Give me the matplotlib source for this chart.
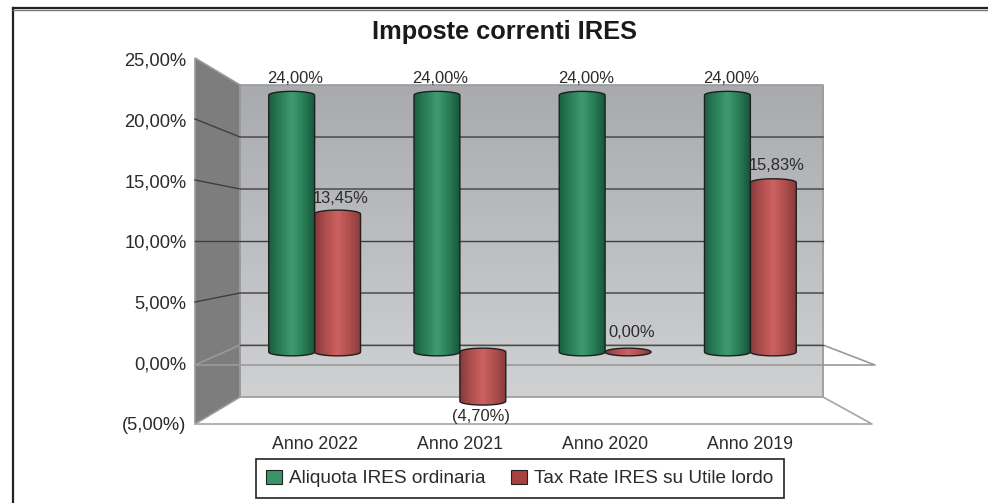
import numpy as np
import matplotlib
matplotlib.use("Agg")
import matplotlib.pyplot as plt
from matplotlib.colors import LinearSegmentedColormap
from matplotlib.patches import PathPatch, Patch, Polygon
from matplotlib.path import Path

plt.rcParams['font.family'] = ['Liberation Sans', 'DejaVu Sans']

years = ["Anno 2022", "Anno 2021", "Anno 2020", "Anno 2019"]
aliquota = [24.0, 24.0, 24.0, 24.0]
# heights as drawn in the picture, the 2022 bar sits a bit under its label
tax_rate = [12.9, -4.6, 0.0, 15.83]
aliquota_labels = ["24,00%", "24,00%", "24,00%", "24,00%"]
tax_labels = ["13,45%", "(4,70%)", "0,00%", "15,83%"]
y_ticks = [-5, 0, 5, 10, 15, 20, 25]
y_tick_labels = ["(5,00%)", "0,00%", "5,00%", "10,00%", "15,00%", "20,00%", "25,00%"]
series_names = ["Aliquota IRES ordinaria", "Tax Rate IRES su Utile lordo"]

W, H = 988, 503
TEXT = "#2b2b2b"


def px_axes(fig, left, top, right, bottom, **kw):
    # axes placed by pixel box, top/bottom counted from the top of the image
    return fig.add_axes([left / W, (H - bottom) / H, (right - left) / W, (bottom - top) / H], **kw)


fig = plt.figure(figsize=(W / 100, H / 100), dpi=100, facecolor="white")

# background: walls, floor and frame, in image pixels
bg = px_axes(fig, 0, 0, W, H)
bg.set_xlim(0, W)
bg.set_ylim(H, 0)
bg.axis("off")

back_cmap = LinearSegmentedColormap.from_list("back", ["#a9aaae", "#d0d1d3"])
im = bg.imshow(np.linspace(0, 1, 100)[:, None], extent=(240, 823, 397, 85), cmap=back_cmap, aspect="auto", zorder=1)
side = Polygon([(195, 58), (240, 85), (240, 397), (195, 424)], closed=True, facecolor="#7d7d7d",
               edgecolor="#9a9a9a", lw=1.2, zorder=2)
bg.add_patch(side)
bg.plot([240, 823, 823, 240, 240], [85, 85, 397, 397, 85], color="#9a9a9a", lw=1.2, zorder=3)

# gridlines on back wall and side wall
for v in y_ticks[2:-1]:
    yb = 397 - (v + 5) * 312 / 30
    yf = 424 - (v + 5) * 366 / 30
    bg.plot([195, 240, 823], [yf, yb, yb], color="#3f3f3f", lw=1.0, zorder=3)

# zero plane and floor edges
bg.plot([195, 240, 823, 875, 195], [365, 345, 345, 365, 365], color="#9a9a9a", lw=1.2, zorder=3)
bg.plot([240, 823], [345, 345], color="#4a4a4a", lw=1.0, zorder=3)
bg.plot([823, 872, 195], [397, 424, 424], color="#a5a5a5", lw=1.2, zorder=3)

# frame, open on the right and at the bottom
bg.plot([13, 13], [H, 8], color="#222222", lw=1.6, zorder=4)
bg.plot([13, W], [9.6, 9.6], color="#777777", lw=1.0, zorder=4)
bg.plot([13, W], [8, 8], color="#222222", lw=1.6, zorder=4)

# front scale, only carries the tick labels
scale = px_axes(fig, 195, 59, 875, 424)
scale.patch.set_alpha(0)
scale.set_ylim(-5, 25)
scale.set_xticks([])
scale.set_yticks(y_ticks, y_tick_labels, fontsize=13.2, color=TEXT)
scale.tick_params(axis="y", length=0, pad=6)
for s in scale.spines.values():
    s.set_visible(False)

# bar plane
ax = px_axes(fig, 242, 84.5, 823, 405.5)
ax.patch.set_alpha(0)
for s in ax.spines.values():
    s.set_visible(False)
ax.set_yticks([])

green_cmap = LinearSegmentedColormap.from_list("g", ["#1b5f42", "#2a7f58", "#409a70", "#2a7f58", "#17573b"])
red_cmap = LinearSegmentedColormap.from_list("r", ["#883a3c", "#b0504f", "#cc6160", "#b0504f", "#8a3a3c"])
bar_w = 0.316
cap = 0.36
# label gaps above/below the red bars, in points
tax_gap = [3, -2.5, 6, 4]


def cylinder(x0, value, cmap):
    hi, lo = max(value, 0), min(value, 0)
    t = np.linspace(np.pi, 0, 40)
    xs = x0 + bar_w / 2 + bar_w / 2 * np.cos(t)
    top = np.column_stack([xs, hi + cap * np.sin(t)])
    bot = np.column_stack([xs[::-1], lo - cap * np.sin(t)])
    verts = np.vstack([top, bot, top[:1]])
    patch = PathPatch(Path(verts), facecolor="none", edgecolor="#1f1f1f", lw=1.0, zorder=6)
    ax.add_patch(patch)
    img = ax.imshow(np.linspace(0, 1, 100)[None, :], extent=(x0, x0 + bar_w, lo - cap, hi + cap),
                    cmap=cmap, aspect="auto", zorder=5)
    img.set_clip_path(patch)
    patch.set_clip_on(False)


xpos = np.arange(len(years))
for i, x in enumerate(xpos):
    cylinder(x - bar_w, aliquota[i], green_cmap)
    cylinder(x, tax_rate[i], red_cmap)
    ax.annotate(aliquota_labels[i], (x - bar_w / 2, aliquota[i] + cap), xytext=(2.5, 3.5), textcoords="offset points",
                ha="center", va="bottom", fontsize=11.9, color=TEXT, zorder=7)
    neg = tax_rate[i] < 0
    ax.annotate(tax_labels[i], (x + bar_w / 2, tax_rate[i] + (-cap if neg else cap)),
                xytext=(-1 if neg else 2.5, tax_gap[i]), textcoords="offset points",
                ha="center", va="top" if neg else "bottom", fontsize=11.9, color=TEXT, zorder=7)

ax.set_xlim(-0.5, 3.5)
ax.set_ylim(-5, 25)
ax.set_xticks(xpos, years, fontsize=12.8, color=TEXT)
ax.tick_params(axis="x", length=0, pad=22)

fig.text(504 / W, 1 - 32 / H, "Imposte correnti IRES", ha="center", va="center", fontsize=18.3,
         fontweight="bold", color="#1a1a1a")

handles = [Patch(facecolor="#3a9468", edgecolor="#222222", lw=0.8),
           Patch(facecolor="#a8403f", edgecolor="#222222", lw=0.8)]
leg = fig.legend(handles, series_names, loc="center", bbox_to_anchor=(520 / W, 1 - 478.5 / H), ncol=2,
                 fontsize=13.7, frameon=True, fancybox=False, framealpha=1, edgecolor="#222222",
                 handlelength=0.8, handleheight=0.8, handletextpad=0.4, columnspacing=1.35,
                 borderpad=0.55, labelcolor=TEXT)
leg.get_frame().set_linewidth(1.2)

fig.savefig("out.png", dpi=100)
